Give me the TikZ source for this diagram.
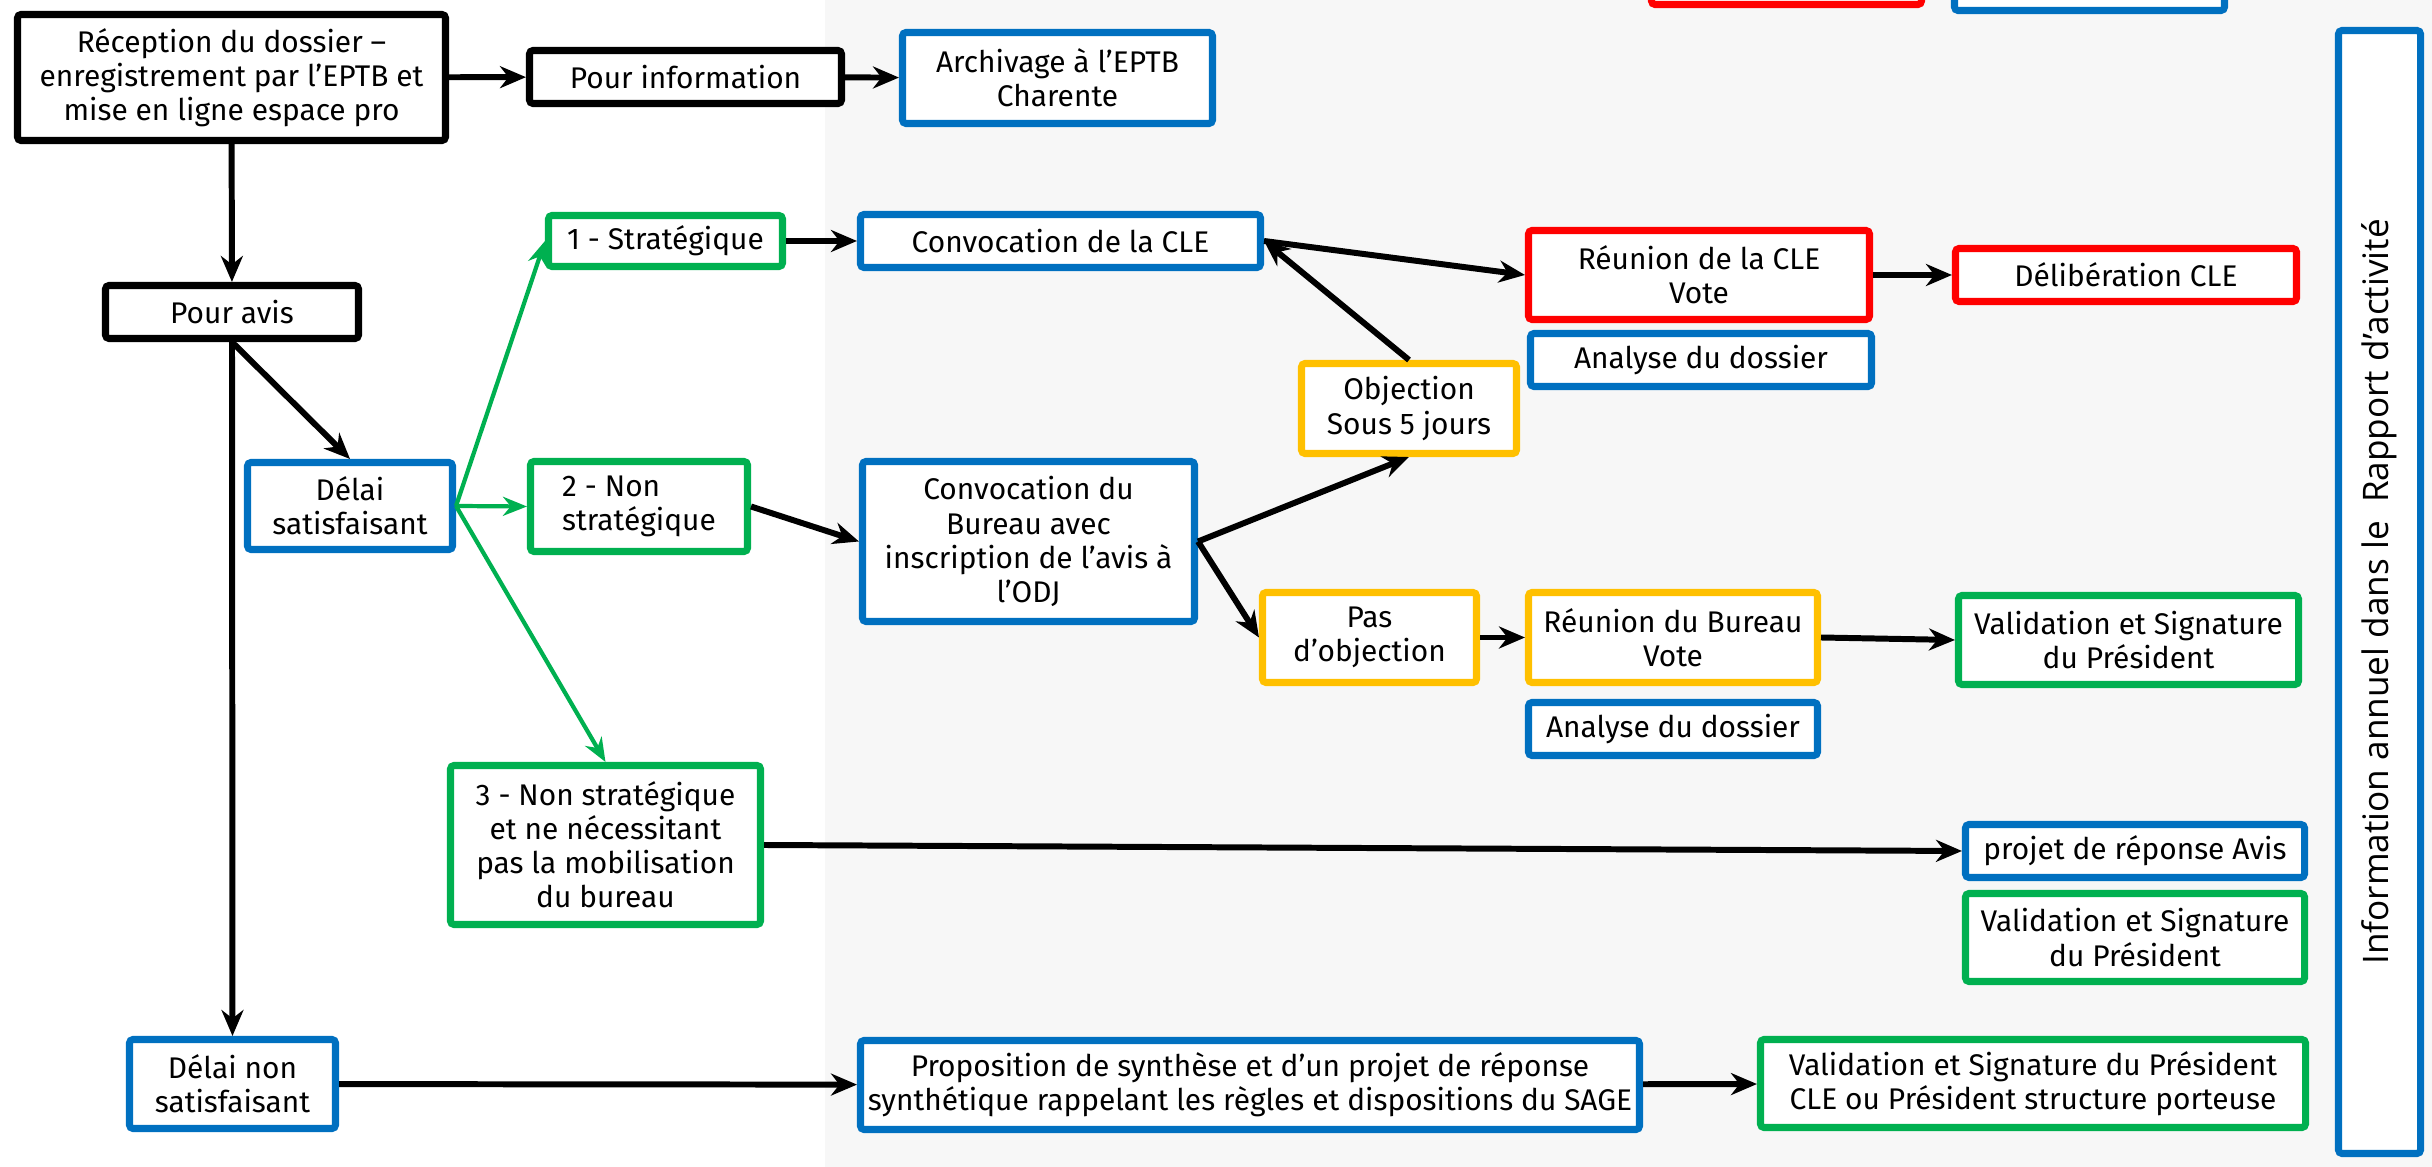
\documentclass[tikz,border=0pt]{standalone}
\usepackage{fontspec}
\setmainfont{Fira Sans}
\newfontfamily\vertfont{Open Sans}
\usetikzlibrary{arrows.meta}

\definecolor{bleu}{HTML}{0070C0}
\definecolor{vert}{HTML}{00B050}
\definecolor{rouge}{HTML}{FF0000}
\definecolor{jaune}{HTML}{FFC000}
\definecolor{fond}{HTML}{F7F7F7}

\begin{document}
\begin{tikzpicture}[
    boite/.style={draw, fill=white, line width=2pt, rounded corners=1pt, align=center,
      inner sep=1pt, font=\fontsize{8.5}{9.7}\selectfont},
    taille/.style 2 args={minimum width=#1cm, minimum height=#2cm},
    cadrenoir/.style={boite, draw=black},
    cadrebleu/.style={boite, draw=bleu},
    cadrevert/.style={boite, draw=vert},
    cadrerouge/.style={boite, draw=rouge},
    cadrejaune/.style={boite, draw=jaune},
    fleche/.style={line width=1.7pt, -{Stealth[length=0.26cm,width=0.22cm]}},
    flechevert/.style={draw=vert, line width=1.2pt, -{Stealth[length=0.24cm,width=0.19cm]}}]
          \useasboundingbox (0,0) rectangle (24.32,-11.67);
          \fill[white] (0,0) rectangle (8.25,-11.67);
          \fill[fond] (8.25,0) rectangle (24.32,-11.67);
          % haut
          \node[cadrenoir, taille={4.28}{1.26}] (rec) at (2.315,-0.775) {Réception du dossier –\\enregistrement par l’EPTB et\\mise en ligne espace pro};
          \node[cadrenoir, taille={3.12}{0.53}] (info) at (6.855,-0.77) {Pour information};
          \node[cadrebleu, taille={3.10}{0.91}] (arch) at (10.575,-0.78) {Archivage à l’EPTB\\Charente};
          \node[cadrerouge, taille={2.70}{1.0}] (hautrouge) at (17.865,0.455) {};
          \node[cadrebleu, taille={2.70}{1.0}] (hautbleu) at (20.895,0.395) {};
          \node[cadrebleu, taille={11.23}{0.82}, rotate=90, font=\vertfont\fontsize{10}{12}\selectfont] (annuel) at (23.795,-5.92) {Information annuel dans le \ Rapport d’activité};
          % pour avis
          \node[cadrenoir, taille={2.53}{0.53}] (pa) at (2.32,-3.12) {Pour avis};
          \node[cadrebleu, taille={2.05}{0.87}] (ds) at (3.50,-5.06) {Délai\\satisfaisant};
          \node[cadrevert, taille={2.34}{0.51}] (strat) at (6.655,-2.41) {1 - Stratégique};
          \node[cadrevert, taille={2.17}{0.90}, align=left] (nonstrat) at (6.39,-5.065) {2 - Non\\stratégique};
          \node[cadrevert, taille={3.10}{1.59}] (trois) at (6.055,-8.45) {3 - Non stratégique\\et ne nécessitant\\pas la mobilisation\\du bureau};
          % CLE
          \node[cadrebleu, taille={4.00}{0.53}] (cle) at (10.605,-2.41) {Convocation de la CLE};
          \node[cadrerouge, taille={3.41}{0.89}] (rcle) at (16.99,-2.75) {Réunion de la CLE\\Vote};
          \node[cadrerouge, taille={3.41}{0.53}] (delib) at (21.26,-2.75) {Délibération CLE};
          \node[cadrebleu, taille={3.41}{0.53}] (ana1) at (17.01,-3.60) {Analyse du dossier};
          \node[cadrejaune, taille={2.15}{0.90}] (obj) at (14.09,-4.085) {Objection\\Sous 5 jours};
          % bureau
          \node[cadrebleu, taille={3.32}{1.60}] (bur) at (10.285,-5.415) {Convocation du\\Bureau avec\\inscription de l’avis à\\l’ODJ};
          \node[cadrejaune, taille={2.14}{0.90}] (pas) at (13.695,-6.375) {Pas\\d’objection};
          \node[cadrejaune, taille={2.89}{0.90}] (rbur) at (16.73,-6.375) {Réunion du Bureau\\Vote};
          \node[cadrevert, taille={3.40}{0.89}] (val1) at (21.285,-6.40) {Validation et Signature\\du Président};
          \node[cadrebleu, taille={2.89}{0.53}] (ana2) at (16.73,-7.29) {Analyse du dossier};
          % non strategique
          \node[cadrebleu, taille={3.39}{0.53}] (proj) at (21.35,-8.51) {projet de réponse Avis};
          \node[cadrevert, taille={3.39}{0.88}] (val2) at (21.35,-9.375) {Validation et Signature\\du Président};
          % delai non satisfaisant
          \node[cadrebleu, taille={2.06}{0.89}] (dn) at (2.325,-10.84) {Délai non\\satisfaisant};
          \node[cadrebleu, taille={7.79}{0.89}] (prop) at (12.50,-10.85) {Proposition de synthèse et d’un projet de réponse\\synthétique rappelant les règles et dispositions du SAGE};
          \node[cadrevert, taille={5.45}{0.88}] (val3) at (20.33,-10.835) {Validation et Signature du Président\\CLE ou Président structure porteuse};
          % fleches
          \draw[fleche] (rec) -- (pa);
          \draw[fleche] (rec) -- (info);
          \draw[fleche] (info) -- (arch);
          \draw[fleche] (pa.south) -- (ds.north);
          \draw[fleche] (pa.south) -- (dn.north);
          \draw[flechevert] (ds.east) -- (strat.west);
          \draw[flechevert] (ds.east) -- (nonstrat.west);
          \draw[flechevert] (ds.east) -- (trois.north);
          \draw[fleche] (strat) -- (cle);
          \draw[fleche] (nonstrat.east) -- (bur.west);
          \draw[fleche] (cle.east) -- (rcle.west);
          \draw[fleche] (obj.north) -- (cle.east);
          \draw[fleche] (rcle) -- (delib);
          \draw[fleche] (bur.east) -- (obj.south);
          \draw[fleche] (bur.east) -- (pas.west);
          \draw[fleche] (pas) -- (rbur);
          \draw[fleche] (rbur.east) -- (val1.west);
          \draw[fleche] (trois.east) -- (proj.west);
          \draw[fleche] (dn) -- (prop);
          \draw[fleche] (prop) -- (val3);
        \end{tikzpicture}
\end{document}
